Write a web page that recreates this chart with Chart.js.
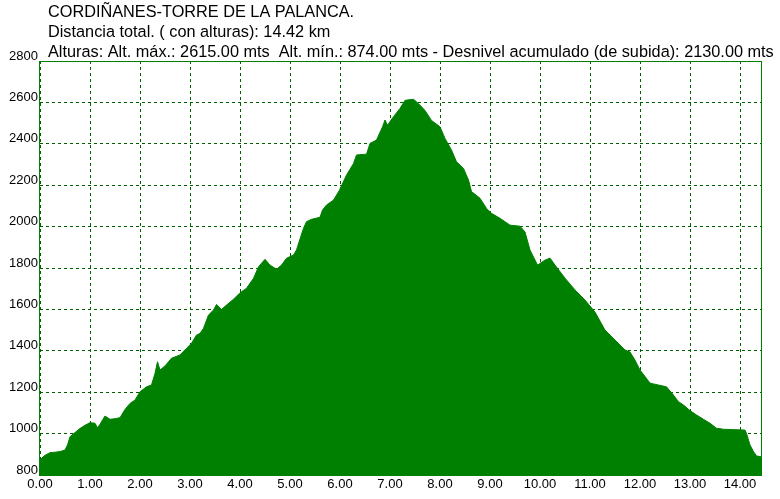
<!DOCTYPE html>
<html>
<head>
<meta charset="utf-8">
<script src="https://cdn.jsdelivr.net/npm/chart.js@4/dist/chart.umd.min.js"></script>
<style>
  body { margin: 0; background: #fff; }
  #wrap { width: 780px; height: 499px; }
</style>
</head>
<body>
<div id="wrap"><canvas id="profileChart" width="780" height="499"></canvas></div>
<script>
// Profile data (distance in km, altitude in m)
const distances = [
  0.00, 0.10, 0.20, 0.30, 0.40, 0.50, 0.55, 0.60, 0.70, 0.80, 0.90, 1.00, 1.10, 1.15, 1.20, 1.30, 1.40, 1.50, 1.60, 1.70,
  1.80, 1.90, 2.00, 2.13, 2.23, 2.30, 2.35, 2.40, 2.50, 2.63, 2.80, 2.93, 3.03, 3.13, 3.20, 3.27, 3.37, 3.47, 3.53, 3.63,
  3.73, 3.87, 3.99, 4.13, 4.27, 4.37, 4.50, 4.60, 4.73, 4.83, 4.93, 5.07, 5.13, 5.20, 5.27, 5.33, 5.43, 5.60, 5.65, 5.73,
  5.87, 5.99, 6.13, 6.27, 6.33, 6.53, 6.60, 6.73, 6.85, 6.90, 6.95, 7.07, 7.20, 7.30, 7.47, 7.57, 7.70, 7.83, 8.00, 8.10,
  8.23, 8.33, 8.47, 8.57, 8.63, 8.80, 8.93, 9.03, 9.20, 9.40, 9.60, 9.70, 9.80, 9.95, 10.10, 10.20, 10.30, 10.50, 10.70, 10.90,
  11.10, 11.30, 11.50, 11.70, 11.80, 11.90, 12.00, 12.20, 12.27, 12.53, 12.67, 12.77, 12.87, 13.00, 13.13, 13.27, 13.40, 13.53, 13.67, 14.10,
  14.13, 14.20, 14.27, 14.33, 14.42
];
const altitudes = [
  874, 895, 908, 910, 913, 921, 945, 985, 1005, 1025, 1040, 1053, 1050, 1028, 1045, 1085, 1069, 1072, 1077, 1117,
  1146, 1162, 1202, 1226, 1235, 1291, 1347, 1307, 1327, 1364, 1380, 1412, 1436, 1476, 1484, 1509, 1573, 1597, 1624, 1600,
  1621, 1649, 1678, 1702, 1750, 1806, 1842, 1814, 1794, 1814, 1847, 1863, 1887, 1940, 1992, 2024, 2035, 2045, 2080, 2104,
  2128, 2176, 2249, 2305, 2346, 2350, 2402, 2418, 2482, 2515, 2490, 2531, 2571, 2610, 2615, 2594, 2561, 2513, 2482, 2426,
  2370, 2313, 2281, 2225, 2169, 2137, 2088, 2064, 2040, 2007, 2002, 1974, 1887, 1814, 1838, 1848, 1814, 1751, 1694, 1645,
  1587, 1500, 1452, 1404, 1394, 1355, 1307, 1244, 1240, 1226, 1186, 1154, 1138, 1111, 1090, 1069, 1050, 1026, 1021, 1017,
  1001, 945, 913, 892, 888
];
const xTickValues = [0, 1, 2, 3, 4, 5, 6, 7, 8, 9, 10, 11, 12, 13, 14];
const yTickValues = [800, 1000, 1200, 1400, 1600, 1800, 2000, 2200, 2400, 2600, 2800];
const titleLines = [
  'CORDIÑANES-TORRE DE LA PALANCA.',
  'Distancia total. ( con alturas): 14.42 km',
  'Alturas: Alt. máx.: 2615.00 mts  Alt. mín.: 874.00 mts - Desnivel acumulado (de subida): 2130.00 mts'
];
const xMin = 0, xMax = 14.42;
const yMin = 800, yMax = 2800;

const green = 'rgb(0,128,0)';
const gridGreen = 'rgb(0,96,0)';
const tickFont = { family: '"Liberation Sans", Arial, sans-serif', size: 13 };

// header text above the plot
const headerPlugin = {
  id: 'header',
  afterDraw(chart) {
    const c = chart.ctx;
    c.save();
    c.fillStyle = '#000';
    c.font = '16.3px "Liberation Sans", Arial, sans-serif';
    c.textBaseline = 'alphabetic';
    titleLines.forEach((t, i) => c.fillText(t, 48, 17 + i * 20));
    c.restore();
  }
};

// solid frame round the plot area (drawn under the fill)
const framePlugin = {
  id: 'frame',
  beforeDatasetsDraw(chart) {
    const a = chart.chartArea;
    const c = chart.ctx;
    c.save();
    c.strokeStyle = green;
    c.lineWidth = 1;
    c.strokeRect(Math.round(a.left) - 0.5, Math.round(a.top) + 0.5, Math.round(a.right - a.left) + 1, Math.round(a.bottom - a.top));
    c.restore();
  }
};

new Chart(document.getElementById('profileChart'), {
  type: 'line',
  data: {
    datasets: [{
      data: distances.map((d, i) => ({ x: d, y: altitudes[i] })),
      borderColor: green,
      backgroundColor: green,
      borderWidth: 1,
      pointRadius: 0,
      tension: 0,
      fill: 'start'
    }]
  },
  options: {
    responsive: false,
    animation: false,
    layout: { padding: { top: 61, right: 19, left: 0, bottom: 0 } },
    plugins: { legend: { display: false }, tooltip: { enabled: false } },
    scales: {
      x: {
        type: 'linear',
        min: xMin,
        max: xMax,
        afterFit(scale) { scale.height = 24; },
        afterBuildTicks(scale) {
          scale.ticks = xTickValues.map(v => ({ value: v }));
        },
        ticks: {
          padding: 2,
          maxRotation: 0,
          autoSkip: false,
          color: '#000',
          font: tickFont,
          callback: v => Number(v).toFixed(2)
        },
        grid: { color: gridGreen, lineWidth: 1, drawTicks: false },
        border: { display: false, dash: [3, 3] }
      },
      y: {
        min: yMin,
        max: yMax,
        afterFit(scale) { scale.width = 40; },
        afterBuildTicks(scale) {
          scale.ticks = yTickValues.map(v => ({ value: v }));
        },
        ticks: {
          padding: 2,
          labelOffset: -5,
          color: '#000',
          font: tickFont,
          callback: v => String(v)
        },
        grid: { color: gridGreen, lineWidth: 1, drawTicks: false },
        border: { display: false, dash: [3, 3] }
      }
    }
  },
  plugins: [framePlugin, headerPlugin]
});
</script>
</body>
</html>
